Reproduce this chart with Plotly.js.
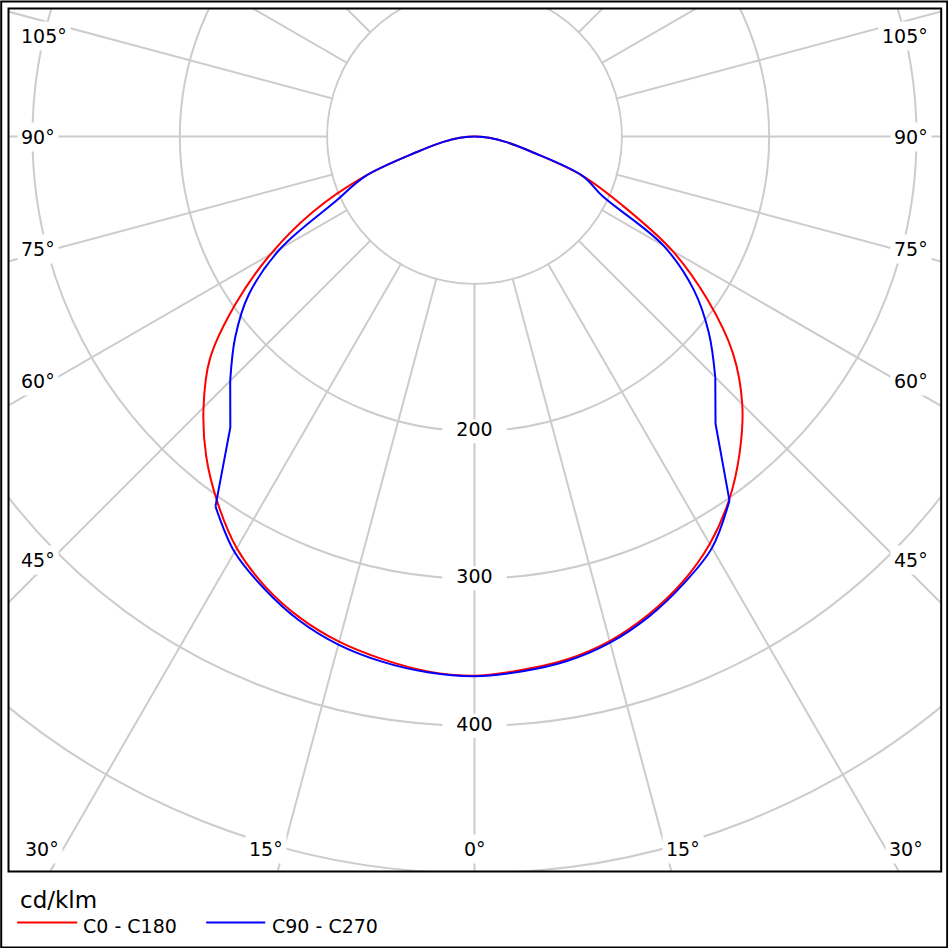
<!DOCTYPE html>
<html>
<head>
<meta charset="utf-8">
<script src="https://cdn.plot.ly/plotly-3.0.1.min.js"></script>
<style>
html,body{margin:0;padding:0;width:948px;height:948px;overflow:hidden;background:#fff;}
#chart{position:absolute;}
</style>
</head>
<body>
<div id="chart"></div>
<script>
// ---- data (luminous intensity, cd/klm, vs gamma angle from nadir) ----
const gamma = [0, 5, 10, 15, 20, 25, 30, 35, 40, 45, 50, 55, 60, 65, 70, 75, 80, 85, 90];
const c0    = [366, 363.5, 360.4, 354.5, 345.3, 333.8, 319.3, 301.2, 280, 257, 229, 193, 155, 111, 78, 40, 22, 10, 0];
const c180  = [366, 364.4, 360.2, 355, 347.3, 336.7, 322.7, 303.8, 283.3, 260.1, 234.3, 197.9, 159.9, 121.1, 80, 40, 22, 10, 0];
const c90   = [366.4, 364.5, 361.5, 355.6, 346.6, 335.2, 322.4, 301.7, 254.5, 231.1, 207.7, 181.8, 148.1, 96, 78, 40, 22, 10, 0];
const c270  = [366.4, 365, 361.9, 357, 349.2, 338.3, 325.7, 306.5, 257.8, 234.5, 212, 187, 152, 104, 79, 40, 22, 10, 0];
const seriesNames = ['C0 - C180', 'C90 - C270'];
const radialTicks = [200, 300, 400];
const radialTickText = ['200', '300', '400'];
const unitLabel = 'cd/klm';
const sideAngleLabels = ['105°', '90°', '75°', '60°', '45°'];
const bottomAngleLabels = ['30°', '15°', '0°', '15°', '30°'];

// ---- rendering settings ----
const RMAX = 620;
const S = 1827;                 // figure size in px
const CX = 474.3, CY = 136;     // polar centre on the page
const L = CX - S / 2, T = CY - S / 2;
const fx = px => (px - L) / S;
const fy = py => 1 - (py - T) / S;
const FONT = 'DejaVu Sans';
const SHARP_FROM = 35, SHARP_TO = 45;   // straight (unsmoothed) stretch of the C90-C270 curve

const chart = document.getElementById('chart');
chart.style.left = L + 'px';
chart.style.top = T + 'px';

// full curves: left half (C180 / C270) at negative angles, right half positive
const fullTheta = gamma.slice().reverse().map(g => -g).concat(gamma.slice(1));
function fullR(left, right) {
  return left.slice().reverse().concat(right.slice(1));
}

const redR = fullR(c180, c0);
const blueR = fullR(c270, c90);

function piece(r, i0, i1, shape, color, name) {
  return {
    type: 'scatterpolar', mode: 'lines', name: name,
    theta: fullTheta.slice(i0, i1 + 1), r: r.slice(i0, i1 + 1),
    line: { color: color, width: 2, shape: shape, smoothing: 1 },
    showlegend: false, hoverinfo: 'skip'
  };
}
const iA = fullTheta.indexOf(-SHARP_TO), iB = fullTheta.indexOf(-SHARP_FROM);
const iC = fullTheta.indexOf(SHARP_FROM), iD = fullTheta.indexOf(SHARP_TO);
const iEnd = fullTheta.length - 1;

const traces = [
  { // white inner disk (hides radial grid lines inside r=100)
    type: 'barpolar', r: [99.3], theta: [0], width: [360], base: 0,
    marker: { color: '#ffffff', line: { width: 0 } },
    showlegend: false, hoverinfo: 'skip'
  },
  { // radial tick labels with white background
    type: 'scatterpolar', mode: 'markers+text',
    r: radialTicks, theta: radialTicks.map(() => 0), text: radialTickText,
    textposition: 'middle center',
    textfont: { family: FONT, size: 19, color: '#000' },
    marker: { symbol: 'line-ew', size: 46, color: '#fff', line: { color: '#fff', width: 24 } },
    showlegend: false, hoverinfo: 'skip', cliponaxis: false
  },
  piece(redR, 0, iEnd, 'spline', '#ff0000', seriesNames[0]),
  piece(blueR, 0, iA, 'spline', '#0000ff', seriesNames[1]),
  piece(blueR, iA, iB, 'linear', '#0000ff', seriesNames[1]),
  piece(blueR, iB, iC, 'spline', '#0000ff', seriesNames[1]),
  piece(blueR, iC, iD, 'linear', '#0000ff', seriesNames[1]),
  piece(blueR, iD, iEnd, 'spline', '#0000ff', seriesNames[1])
];

const white = { type: 'rect', xref: 'paper', yref: 'paper', layer: 'above', fillcolor: '#ffffff', line: { width: 0 } };
const shapes = [
  Object.assign({}, white, { x0: fx(-20), x1: fx(8.3), y0: fy(1000), y1: fy(-20) }),
  Object.assign({}, white, { x0: fx(941), x1: fx(1000), y0: fy(1000), y1: fy(-20) }),
  Object.assign({}, white, { x0: fx(-20), x1: fx(1000), y0: fy(8), y1: fy(-20) }),
  Object.assign({}, white, { x0: fx(-20), x1: fx(1000), y0: fy(1000), y1: fy(871) }),
  { type: 'rect', xref: 'paper', yref: 'paper', layer: 'above', fillcolor: 'rgba(0,0,0,0)',
    x0: fx(8.3), x1: fx(941), y0: fy(871), y1: fy(8), line: { color: '#000', width: 2 } },
  { type: 'rect', xref: 'paper', yref: 'paper', layer: 'above', fillcolor: 'rgba(0,0,0,0)',
    x0: fx(1), x1: fx(947), y0: fy(947), y1: fy(1), line: { color: '#000', width: 2 } },
  { type: 'line', xref: 'paper', yref: 'paper', layer: 'above',
    x0: fx(17), x1: fx(77), y0: fy(922), y1: fy(922), line: { color: '#ff0000', width: 2 } },
  { type: 'line', xref: 'paper', yref: 'paper', layer: 'above',
    x0: fx(206), x1: fx(265), y0: fy(922), y1: fy(922), line: { color: '#0000ff', width: 2 } }
];

function ann(text, px, py, xanchor, size, bg) {
  return {
    text: text, xref: 'paper', yref: 'paper', x: fx(px), y: fy(py),
    xanchor: xanchor, yanchor: 'middle', showarrow: false,
    font: { family: FONT, size: size, color: '#000' },
    bgcolor: bg ? '#ffffff' : 'rgba(0,0,0,0)', borderpad: 3
  };
}
const sideY = [35.5, 136, 248, 380, 559];
const bottomX = [41.5, 265.5, 474.5, 683, 906];
const annotations = [];
sideAngleLabels.forEach((t, i) => {
  annotations.push(ann(t, 17, sideY[i], 'left', 19, true));
  annotations.push(ann(t, 932, sideY[i], 'right', 19, true));
});
bottomAngleLabels.forEach((t, i) => annotations.push(ann(t, bottomX[i], 848, 'center', 19, true)));
annotations.push(ann(unitLabel, 16, 899, 'left', 23, false));
annotations.push(ann(seriesNames[0], 79, 925, 'left', 19, false));
annotations.push(ann(seriesNames[1], 268, 925, 'left', 19, false));

const layout = {
  width: S, height: S, autosize: false,
  margin: { l: 0, r: 0, t: 0, b: 0, pad: 0 },
  paper_bgcolor: '#ffffff',
  showlegend: false,
  font: { family: FONT, size: 19, color: '#000' },
  polar: {
    domain: { x: [0, 1], y: [0, 1] },
    bgcolor: '#ffffff',
    radialaxis: {
      range: [0, RMAX], tickmode: 'linear', tick0: 0, dtick: 100,
      showline: false, showticklabels: false, ticks: '',
      gridcolor: '#cccccc', gridwidth: 2
    },
    angularaxis: {
      rotation: -90, direction: 'counterclockwise',
      tickmode: 'linear', tick0: 0, dtick: 15,
      showline: false, showticklabels: false, ticks: '',
      gridcolor: '#cccccc', gridwidth: 2
    }
  },
  shapes: shapes,
  annotations: annotations
};

Plotly.newPlot(chart, traces, layout, { staticPlot: true, displayModeBar: false });
</script>
</body>
</html>
